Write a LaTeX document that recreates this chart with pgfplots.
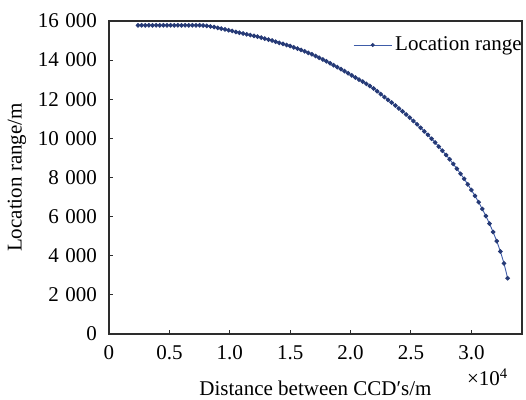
\documentclass[border=0pt]{standalone}
\usepackage{fontspec}
\setmainfont{Liberation Serif}
\usepackage{pgfplots}
\pgfplotsset{compat=1.18}
\usetikzlibrary{calc}

\definecolor{curveline}{RGB}{62,92,168}
\definecolor{curvemark}{RGB}{38,58,118}
\definecolor{axisgray}{RGB}{45,45,45}

\pgfplotstableread{
x y
2400 15780
2700 15780
3000 15780
3300 15780
3600 15780
3900 15780
4200 15780
4500 15780
4800 15780
5100 15780
5400 15780
5700 15780
6000 15780
6300 15780
6600 15780
6900 15780
7200 15780
7500 15780
7800 15770
8100 15750
8400 15720
8700 15690
9000 15650
9300 15610
9600 15570
9900 15530
10200 15490
10500 15440
10800 15400
11100 15360
11400 15320
11700 15280
12000 15240
12300 15200
12600 15150
12900 15100
13200 15050
13500 15000
13800 14940
14100 14880
14400 14830
14700 14770
15000 14720
15300 14650
15600 14590
15900 14520
16200 14450
16500 14370
16800 14300
17100 14210
17400 14120
17700 14030
18000 13940
18300 13840
18600 13740
18900 13640
19200 13540
19500 13440
19800 13330
20100 13220
20400 13110
20700 13000
21000 12900
21300 12790
21600 12680
21900 12550
22200 12410
22500 12260
22800 12110
23100 11970
23400 11830
23700 11680
24000 11530
24300 11380
24600 11220
24900 11060
25200 10890
25500 10720
25800 10540
26100 10360
26400 10180
26700 9980
27000 9790
27300 9580
27600 9370
27900 9150
28200 8930
28500 8690
28800 8450
29100 8190
29400 7930
29700 7650
30000 7360
30300 7060
30600 6740
30900 6390
31200 6030
31500 5640
31800 5210
32100 4750
32400 4220
32700 3610
33000 2850
}\loctable

\begin{document}
\fontsize{21}{25}\selectfont
\begin{tikzpicture}
\begin{axis}[
    name=ax,
    scale only axis,
    width=413pt, height=313pt,
    xmin=0, xmax=34190,
    ymin=0, ymax=16000,
    axis line style={axisgray, line width=1.1pt},
    tick style={axisgray, line width=1pt},
    tick align=inside,
    major tick length=4pt,
    xtick pos=bottom, ytick pos=left,
    xtick={0,5000,10000,15000,20000,25000,30000},
    xticklabels={0,0.5,1.0,1.5,2.0,2.5,3.0},
    ytick={0,2000,4000,6000,8000,10000,12000,14000,16000},
    yticklabels={0,2\hspace{0.3em}000,4\hspace{0.3em}000,6\hspace{0.3em}000,8\hspace{0.3em}000,10\hspace{0.3em}000,12\hspace{0.3em}000,14\hspace{0.3em}000,16\hspace{0.3em}000},
    scaled x ticks=false, scaled y ticks=false,
    xticklabel style={yshift=-4pt},
    yticklabel style={xshift=-5pt},
    /pgf/number format/assume math mode=true,
    xlabel={Distance between CCD′s/m},
    ylabel={Location range/m},
    xlabel style={at={(axis description cs:0.5,-0.195)}, anchor=base},
    ylabel style={at={(axis description cs:-0.223,0.5)}, anchor=center},
    legend style={at={(axis description cs:0.591,0.923)}, anchor=west,
        draw=none, fill=none, inner sep=0pt,
        nodes={inner sep=3pt}},
    legend image code/.code={
        \draw[curveline, line width=0.9pt] (0pt,0pt) -- (38pt,0pt);
        \fill[curvemark] (19pt,0pt) circle (1.5pt);
    },
    clip=false,
]
\addplot[curveline, line width=0.9pt, mark=*, mark size=1.85pt,
    mark options={fill=curvemark, draw=curvemark}] table[x=x, y=y] {\loctable};
\addlegendentry{Location range}
\node[anchor=base east] at (axis description cs:0.983,-0.166) {×10\textsuperscript{4}};
\end{axis}
\pgfresetboundingbox
\path ($(ax.south west)+(-109pt,-66pt)$) rectangle ($(ax.north east)+(4pt,21pt)$);
\end{tikzpicture}
\end{document}
